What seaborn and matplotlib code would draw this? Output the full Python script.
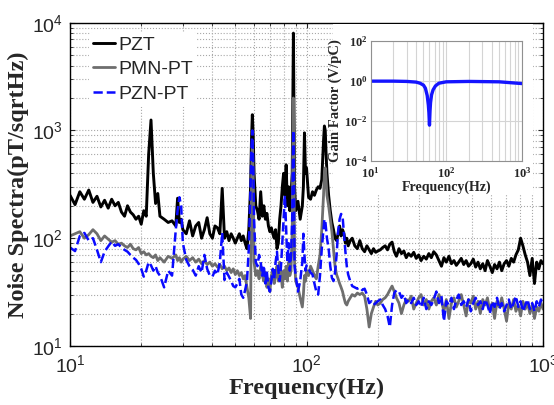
import matplotlib
matplotlib.use('Agg')
import matplotlib.pyplot as plt
import seaborn as sns
import pandas as pd
from matplotlib.patches import Rectangle
from matplotlib.ticker import LogLocator, NullFormatter, FixedLocator

# ---- data ----
freq = [
    10, 10.5, 11, 11.5, 12, 12.5, 13, 13.5, 14, 14.5,
    15, 15.5, 16, 16.5, 17, 17.5, 18, 18.5, 19, 19.5,
    20, 20.5, 21, 21.5, 22, 22.5, 23, 23.5, 24, 25,
    26, 27, 28, 28.5, 29, 29.5, 30, 31, 32, 33,
    34, 35, 36, 37, 38, 39, 40, 41, 42, 43,
    44, 45, 46, 47, 48, 49, 50, 51, 52, 53,
    54, 55, 56, 57, 58, 58.5, 59, 59.5, 60, 61,
    62, 63, 64, 65, 66, 67, 68, 69, 70, 71,
    72, 73, 74, 75, 76, 77, 78, 79, 80, 81,
    82, 83, 84, 85, 86, 87, 87.5, 88, 88.5, 89,
    90, 92, 94, 96, 97, 98, 99, 100, 102, 104,
    106, 108, 110, 112, 114, 116, 118, 119, 120, 121,
    122, 124, 126, 128, 130, 132, 134, 136, 138, 140,
    142, 144, 146, 148, 150, 153, 156, 160, 164, 168,
    172, 176, 180, 184, 188, 192, 196, 200, 205, 210,
    215, 220, 225, 230, 235, 240, 246, 252, 258, 264,
    270, 277, 284, 291, 298, 305, 313, 321, 329, 337,
    345, 354, 363, 372, 381, 390, 400, 410, 420, 430,
    440, 451, 462, 473, 484, 495, 507, 519, 531, 543,
    556, 569, 582, 596, 610, 624, 639, 654, 669, 685,
    701, 717, 734, 751, 768, 786, 804, 822, 841, 860,
    880, 900, 920, 940, 960, 980, 1000,
]

pzt = [
    250, 205, 270, 230, 280, 215, 245, 195, 225, 190,
    230, 200, 215, 175, 160, 200, 175, 165, 150, 160,
    135, 180, 160, 600, 1250, 400, 210, 260, 160, 150,
    140, 145, 130, 235, 140, 150, 120, 110, 145, 105,
    130, 140, 100, 120, 155, 110, 100, 130, 125, 110,
    290, 100, 115, 95, 110, 100, 90, 100, 110, 95,
    105, 90, 80, 120, 300, 800, 1400, 900, 400, 200,
    180, 150, 270, 160, 200, 150, 170, 130, 115, 125,
    110, 100, 120, 80, 90, 150, 200, 300, 400, 250,
    480, 200, 300, 180, 250, 400, 2000, 8000, 1500, 300,
    180, 220, 150, 200, 300, 950, 400, 450, 240, 230,
    270, 250, 280, 300, 290, 350, 800, 1100, 1000, 600,
    400, 250, 180, 140, 120, 100, 95, 110, 130, 105,
    120, 110, 90, 100, 85, 95, 100, 85, 80, 95,
    80, 75, 85, 78, 72, 80, 74, 76, 78, 82,
    85, 78, 88, 92, 75, 68, 80, 72, 76, 66,
    72, 68, 74, 65, 70, 62, 68, 64, 72, 66,
    75, 70, 62, 55, 66, 60, 68, 58, 62, 56,
    60, 65, 57, 62, 55, 58, 64, 54, 60, 52,
    58, 50, 62, 55, 48, 57, 52, 60, 50, 58,
    62, 55, 65, 60, 70, 78, 100, 85, 70, 60,
    45, 65, 38, 60, 52, 62, 58,
]

pmn_pt = [
    105, 110, 115, 100, 108, 120, 110, 95, 105, 98,
    92, 95, 88, 90, 85, 82, 88, 80, 78, 82,
    72, 75, 70, 72, 68, 66, 70, 62, 66, 60,
    68, 65, 70, 62, 66, 60, 64, 68, 62, 66,
    60, 64, 58, 62, 57, 60, 55, 58, 54, 57,
    52, 55, 50, 53, 48, 52, 46, 50, 45, 48,
    42, 45, 35, 28, 18, 300, 800, 400, 60, 45,
    50, 42, 55, 45, 40, 48, 35, 42, 32, 45,
    50, 38, 45, 55, 40, 60, 45, 35, 50, 42,
    55, 40, 60, 45, 50, 120, 700, 2000, 500, 60,
    40, 35, 28, 23, 30, 45, 40, 50, 45, 55,
    50, 45, 42, 55, 70, 120, 250, 400, 450, 350,
    250, 200, 150, 115, 80, 55, 46, 42, 38, 35,
    32, 28, 25, 24, 26, 28, 30, 29, 31, 30,
    31, 29, 22, 15, 20, 23, 26, 24, 25, 27,
    28, 30, 33, 36, 32, 28, 25, 20, 24, 27,
    26, 29, 22, 25, 28, 30, 24, 27, 22, 26,
    28, 24, 30, 26, 21, 27, 18, 25, 28, 23,
    26, 30, 24, 19, 27, 25, 29, 22, 26, 20,
    27, 24, 28, 21, 25, 18, 26, 23, 28, 22,
    17, 25, 22, 27, 21, 24, 19, 26, 22, 25,
    20, 24, 18, 23, 21, 25, 22,
]

pzn_pt = [
    82, 76, 105, 112, 95, 100, 78, 60, 75, 84,
    93, 85, 88, 82, 78, 75, 70, 66, 63, 58,
    52, 44, 50, 60, 56, 50, 55, 48, 45, 35,
    50, 45, 120, 180, 240, 200, 90, 63, 55, 51,
    45, 55, 48, 70, 52, 45, 44, 50, 46, 60,
    112, 41, 48, 44, 40, 36, 35, 38, 42, 30,
    28, 33, 40, 80, 300, 700, 1000, 500, 150, 60,
    55, 70, 60, 45, 56, 38, 48, 35, 32, 40,
    52, 42, 60, 75, 50, 40, 55, 90, 150, 250,
    120, 60, 90, 50, 70, 150, 500, 1000, 300, 56,
    45, 32, 40, 60, 110, 70, 50, 56, 52, 48,
    46, 38, 32, 30, 45, 80, 120, 150, 145, 120,
    100, 80, 55, 43, 40, 48, 70, 115, 150, 168,
    160, 110, 75, 55, 46, 40, 36, 35, 34, 35,
    33, 34, 30, 25, 26, 24, 25, 26, 27, 24,
    22, 19, 15, 24, 31, 33, 32, 28, 30, 25,
    27, 25, 28, 24, 26, 23, 28, 22, 26, 24,
    27, 32, 25, 29, 17, 26, 24, 28, 22, 27,
    30, 24, 26, 23, 27, 21, 25, 28, 24, 26,
    22, 27, 24, 20, 26, 23, 28, 22, 25, 21,
    24, 27, 22, 25, 29, 23, 26, 21, 24, 27,
    22, 25, 21, 26, 23, 27, 24,
]

series_names = ['PZT', 'PMN-PT', 'PZN-PT']

# inset: gain factor of the notch filter
gain_freq = [10, 20, 30, 40, 45, 50, 53, 56, 58, 59, 60, 61, 62, 64, 67, 72, 80, 100, 200, 500, 1000]
gain = [0.95, 0.95, 0.92, 0.85, 0.75, 0.6, 0.42, 0.18, 0.06, 0.025, 0.006, 0.03, 0.08, 0.2, 0.35,
        0.55, 0.75, 0.88, 0.92, 0.88, 0.72]

main_xticks = [10, 100, 1000]
main_xticklabels = [r'$\mathregular{10^{1}}$', r'$\mathregular{10^{2}}$', r'$\mathregular{10^{3}}$']
main_yticks = [10, 100, 1000, 10000]
main_yticklabels = [r'$\mathregular{10^{1}}$', r'$\mathregular{10^{2}}$', r'$\mathregular{10^{3}}$',
                    r'$\mathregular{10^{4}}$']
inset_yticks = [1e-4, 1e-2, 1, 100]
inset_yticklabels = [r'$\mathregular{10^{-4}}$', r'$\mathregular{10^{-2}}$', r'$\mathregular{10^{0}}$',
                     r'$\mathregular{10^{2}}$']

sns.set_style('ticks')
plt.rcParams['font.family'] = ['Liberation Sans', 'DejaVu Sans']
plt.rcParams['mathtext.default'] = 'regular'

fig = plt.figure(figsize=(5.54, 4.05), dpi=100)
ax = fig.add_axes([0.1264, 0.1457, 0.8538, 0.7983])

sns.lineplot(x=freq, y=pzt, ax=ax, color='black', lw=2.1, label=series_names[0])
sns.lineplot(x=freq, y=pmn_pt, ax=ax, color='#6e6e6e', lw=2.0, label=series_names[1])
sns.lineplot(x=freq, y=pzn_pt, ax=ax, color='#0a0aff', lw=1.8, ls='--', label=series_names[2])

ax.set_xscale('log')
ax.set_yscale('log')
ax.set_xlim(10, 1000)
ax.set_ylim(10, 10000)

ax.xaxis.set_minor_locator(LogLocator(base=10, subs=range(2, 10)))
ax.yaxis.set_minor_locator(LogLocator(base=10, subs=range(2, 10)))
ax.set_xticks(main_xticks)
ax.set_xticklabels(main_xticklabels, fontsize=14)
ax.set_yticks(main_yticks)
ax.set_yticklabels(main_yticklabels, fontsize=14)
ax.xaxis.set_minor_formatter(NullFormatter())
ax.yaxis.set_minor_formatter(NullFormatter())
ax.tick_params(which='both', direction='in', top=True, right=True)
ax.tick_params(axis='x', which='major', pad=6)
ax.tick_params(axis='y', which='major', pad=5)
ax.grid(True, which='both', ls=':', color='#a8a8a8', lw=0.8)
for s in ax.spines.values():
    s.set_linewidth(1.0)
    s.set_color('black')

ax.set_xlabel('Frequency(Hz)', fontsize=17.5, fontweight='bold', family='Liberation Serif', labelpad=1)
ax.set_ylabel('Noise Spectra(pT/sqrtHz)', fontsize=17.5, fontweight='bold', family='Liberation Serif',
              labelpad=2)

leg = ax.legend(loc='upper left', bbox_to_anchor=(0.04, 0.97), borderaxespad=0, fontsize=14,
                frameon=True, framealpha=1, edgecolor='none', facecolor='white', handlelength=1.15,
                handletextpad=0.15, labelspacing=0.35, borderpad=0.2)

# white panel behind the inset and its labels
ax.add_patch(Rectangle((333 / 554, 1 - 195 / 405), 200 / 554, 171 / 405, transform=fig.transFigure,
                       facecolor='white', edgecolor='none', zorder=5, clip_on=False))

# ---- inset ----
ins = fig.add_axes([0.669, 0.6032, 0.273, 0.2963])
ins.set_facecolor('white')
sns.lineplot(x=gain_freq, y=gain, ax=ins, color='#1414ff', lw=2.4)
ins.set_xscale('log')
ins.set_yscale('log')
ins.set_xlim(10, 1000)
ins.set_ylim(1e-4, 100)
ins.xaxis.set_minor_locator(LogLocator(base=10, subs=range(2, 10)))
ins.xaxis.set_minor_formatter(NullFormatter())
ins.yaxis.set_minor_locator(FixedLocator([]))
ins.set_xticks(main_xticks)
ins.set_xticklabels(main_xticklabels, fontsize=9, fontweight='bold', family='Liberation Serif')
ins.set_yticks(inset_yticks)
ins.set_yticklabels(inset_yticklabels, fontsize=9, fontweight='bold', family='Liberation Serif')
ins.tick_params(which='both', length=0, pad=2)
ins.tick_params(axis='x', which='major', pad=4)
ins.grid(True, which='major', axis='y', color='#d4d4d4', lw=0.8)
ins.grid(True, which='both', axis='x', color='#d4d4d4', lw=0.8)
for s in ins.spines.values():
    s.set_linewidth(0.8)
    s.set_color('#909090')
ins.set_xlabel('Frequency(Hz)', fontsize=10, fontweight='bold', family='Liberation Serif', labelpad=0)
ins.set_ylabel('Gain Factor (V/pC)', fontsize=10.5, fontweight='bold', family='Liberation Serif')
ins.yaxis.set_label_coords(-0.19, 0.5)

fig.savefig('out.png', dpi=100)
